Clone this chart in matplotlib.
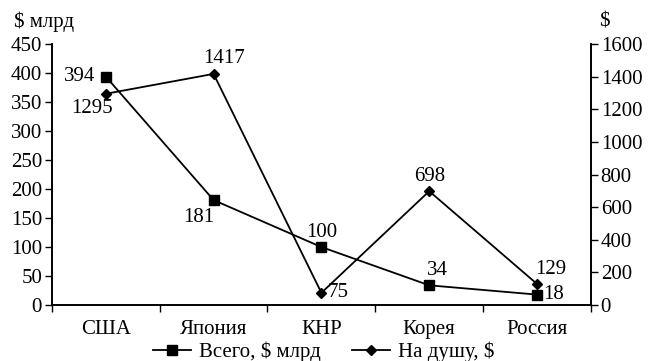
import numpy as np
import matplotlib.pyplot as plt
from matplotlib.lines import Line2D

plt.rcParams['font.family'] = ['Liberation Serif', 'DejaVu Serif']

countries = ['США', 'Япония', 'КНР', 'Корея', 'Россия']
total_bn = [394, 181, 100, 34, 18]          # Всего, $ млрд (left axis)
per_capita = [1295, 1417, 75, 698, 129]     # На душу, $ (right axis)

# label offsets in pixels (dx, dy, ha)
total_off = [(-10, 0, 'right'), (-15, -17, 'center'), (0, 15, 'center'),
             (8, 15, 'center'), (6, 0, 'left')]
capita_off = [(-14, -15, 'center'), (10, 15, 'center'), (6, 0, 'left'),
              (0, 15, 'center'), (14, 15, 'center')]

fig = plt.figure(figsize=(6.48, 3.61), dpi=100)
ax = fig.add_axes([0.080, 0.155, 0.832, 0.723])
ax2 = ax.twinx()

x = np.arange(len(countries)) + 0.5
fs = 15

ax.plot(x, total_bn, color='black', lw=1.3, marker='s', ms=6.5)
ax2.plot(x, per_capita, color='black', lw=1.3, marker='D', ms=5)

for xi, v, (dx, dy, ha) in zip(x, total_bn, total_off):
    ax.annotate(str(v), (xi, v), xytext=(dx, dy), textcoords='offset pixels',
                ha=ha, va='center', fontsize=fs)
for xi, v, (dx, dy, ha) in zip(x, per_capita, capita_off):
    ax2.annotate(str(v), (xi, v), xytext=(dx, dy), textcoords='offset pixels',
                 ha=ha, va='center', fontsize=fs)

ax.set_xlim(0, len(countries))
ax.set_ylim(0, 450)
ax2.set_ylim(0, 1600)
ax.set_yticks(range(0, 451, 50))
ax2.set_yticks(range(0, 1601, 200))
ax.set_xticks(range(len(countries) + 1))
ax.set_xticklabels([])
ax.set_xticks(x, minor=True)
ax.set_xticklabels(countries, minor=True, fontsize=fs)
ax.tick_params(axis='x', which='minor', length=0, pad=11)
ax.tick_params(axis='x', which='major', length=5, width=1, direction='out')
ax.tick_params(axis='y', length=5, width=1, pad=2, labelsize=fs)
ax2.tick_params(axis='y', length=5, width=1, pad=2, labelsize=fs)

for a in (ax, ax2):
    a.spines['top'].set_visible(False)
    for s in ('left', 'right', 'bottom'):
        a.spines[s].set_linewidth(1.2)

fig.text(0.022, 0.94, '$ млрд', fontsize=fs, ha='left', va='center')
fig.text(0.925, 0.94, '$', fontsize=fs, ha='left', va='center')

handles = [Line2D([], [], color='black', lw=1.3, marker='s', ms=6.5),
           Line2D([], [], color='black', lw=1.3, marker='D', ms=5)]
fig.legend(handles, ['Всего, $ млрд', 'На душу, $'], loc='center',
           bbox_to_anchor=(0.5, 0.025), ncol=2, frameon=False, fontsize=fs,
           handlelength=1.8, handletextpad=0.4, columnspacing=1.5,
           borderpad=0)

fig.savefig('out.png', dpi=100)
